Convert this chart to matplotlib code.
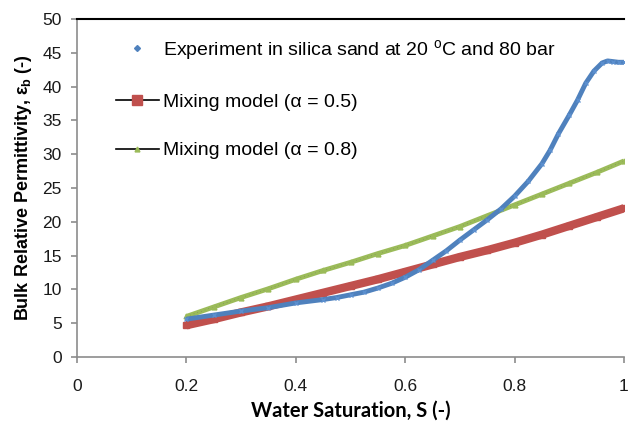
import matplotlib
matplotlib.use("Agg")
import matplotlib.pyplot as plt
from matplotlib.lines import Line2D

plt.rcParams['font.family'] = ['Liberation Sans', 'DejaVu Sans']
plt.rcParams['mathtext.fontset'] = 'custom'
plt.rcParams['mathtext.rm'] = 'Liberation Sans'
plt.rcParams['mathtext.it'] = 'Liberation Sans:italic'
plt.rcParams['mathtext.bf'] = 'Liberation Sans:bold'

# Measured bulk permittivity vs water saturation
s_exp = [0.20, 0.25, 0.30, 0.35, 0.40, 0.45, 0.475, 0.50, 0.525, 0.55, 0.575,
         0.60, 0.625, 0.65, 0.675, 0.70, 0.725, 0.75, 0.775, 0.80, 0.825,
         0.85, 0.865, 0.88, 0.90, 0.915, 0.93, 0.945, 0.96, 0.97, 0.98, 0.99, 1.00]
eps_exp = [5.6, 6.2, 6.8, 7.3, 8.0, 8.5, 8.8, 9.2, 9.6, 10.2, 10.9,
           11.8, 12.9, 14.3, 15.7, 17.3, 18.8, 20.3, 21.9, 23.8, 26.0,
           28.6, 30.6, 33.0, 35.8, 38.0, 40.5, 42.3, 43.5, 43.8, 43.7, 43.6, 43.6]

# Mixing model predictions
s_mod = [0.20, 0.25, 0.30, 0.35, 0.40, 0.45, 0.50, 0.55, 0.60, 0.65, 0.70,
         0.75, 0.80, 0.85, 0.90, 0.95, 1.00]
eps_a05 = [4.7, 5.6, 6.6, 7.5, 8.5, 9.5, 10.5, 11.5, 12.6, 13.7, 14.8,
           15.8, 16.9, 18.1, 19.4, 20.7, 22.0]
eps_a08 = [6.0, 7.4, 8.8, 10.1, 11.5, 12.8, 14.0, 15.3, 16.5, 17.9, 19.3,
           20.9, 22.5, 24.1, 25.7, 27.3, 29.0]

labels = ["Experiment in silica sand at 20 $^{\\mathrm{o}}$C and 80 bar",
          "Mixing model (\u03b1 = 0.5)",
          "Mixing model (\u03b1 = 0.8)"]

blue = "#4f81bd"
red = "#c0504d"
green = "#9bbb59"

fig = plt.figure(figsize=(6.3, 4.23), dpi=100)
ax = fig.add_axes([77 / 630, 1 - 357 / 423, 547 / 630, 338 / 423])

# thick bands standing in for the densely packed markers
ax.plot(s_mod, eps_a05, color=red, lw=6, solid_capstyle='butt', zorder=2)
ax.plot(s_mod, eps_a05, ls='none', marker='s', ms=4.5, mfc=red, mec=red, zorder=3)
ax.plot(s_mod, eps_a08, color=green, lw=3.5, solid_capstyle='butt', zorder=2)
ax.plot(s_mod, eps_a08, color='#6b6b5a', lw=0.4, ls=(0, (1, 6)), marker='^', ms=3.5,
        mfc=green, mec=green, zorder=3)
ax.plot(s_exp, eps_exp, color=blue, lw=3.5, solid_capstyle='butt', zorder=4)
ax.plot(s_exp, eps_exp, ls='none', marker='x', ms=3.5, mew=1, color='#5b8fcf', zorder=4)

ax.set_xlim(0, 1)
ax.set_ylim(0, 50)
ax.set_xticks([0, 0.2, 0.4, 0.6, 0.8, 1])
ax.set_xticklabels(["0", "0.2", "0.4", "0.6", "0.8", "1"])
ax.set_yticks(range(0, 51, 5))

for side in ['left', 'bottom']:
    ax.spines[side].set_color('#8c8c8c')
    ax.spines[side].set_linewidth(1.2)
ax.spines['top'].set_color('black')
ax.spines['top'].set_linewidth(1.5)
ax.spines['right'].set_visible(False)
ax.tick_params(direction='out', length=4, width=1.2, color='#8c8c8c',
               labelsize=12.5, labelcolor='#1a1a1a')
ax.tick_params(axis='y', pad=7)
ax.tick_params(axis='x', pad=12)

ax.set_ylabel("Bulk Relative Permittivity, \u03b5$_{\\mathbf{b}}$ (-)",
              fontsize=13, fontweight='bold', labelpad=6)
ax.set_xlabel("Water Saturation, S (-)", fontsize=14.5, fontweight='bold',
              family=['Lato', 'DejaVu Sans'], labelpad=5)

handles = [
    Line2D([], [], ls='none', marker='D', ms=3, color=blue),
    Line2D([], [], color='black', lw=1.2, marker='s', ms=7, mfc=red, mec=red),
    Line2D([], [], color='black', lw=1.2, marker='^', ms=3.5, mfc=green, mec=green),
]
ax.legend(handles, labels, loc='upper left', frameon=False, fontsize=14,
          bbox_to_anchor=(116 / 630, 1 - 38 / 423), bbox_transform=fig.transFigure,
          borderpad=0, borderaxespad=0, handlelength=2.2, handletextpad=0.2,
          labelspacing=1.6)

fig.savefig("out.png", dpi=100)
